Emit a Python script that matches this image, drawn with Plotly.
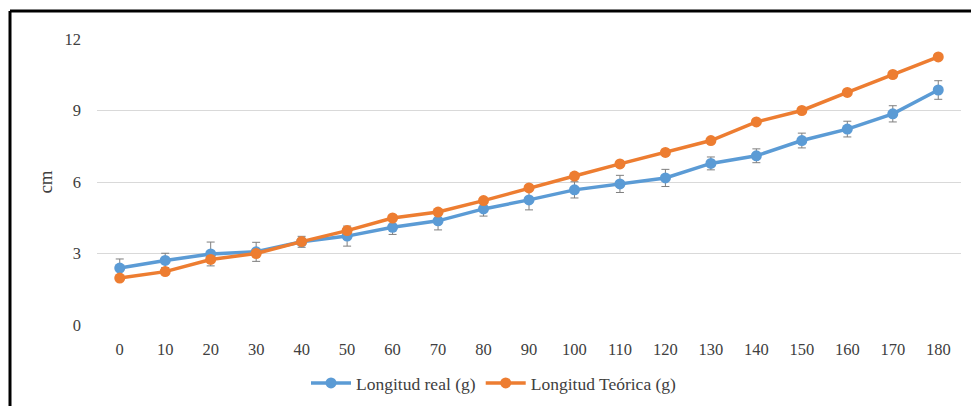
import plotly.graph_objects as go

categories = ["0", "10", "20", "30", "40", "50", "60", "70", "80", "90",
              "100", "110", "120", "130", "140", "150", "160", "170", "180"]
real = [2.39, 2.71, 2.98, 3.07, 3.49, 3.73, 4.10, 4.37, 4.87, 5.25,
        5.67, 5.92, 6.17, 6.78, 7.10, 7.74, 8.22, 8.86, 9.86]
real_err = [0.38, 0.3, 0.5, 0.4, 0.23, 0.42, 0.3, 0.38, 0.3, 0.42,
            0.34, 0.36, 0.36, 0.27, 0.29, 0.31, 0.33, 0.34, 0.39]
teorica = [1.97, 2.24, 2.75, 3.0, 3.5, 3.96, 4.49, 4.74, 5.22, 5.75,
           6.25, 6.76, 7.24, 7.74, 8.52, 9.0, 9.76, 10.51, 11.25]
yticks = [0, 3, 6, 9, 12]

BLUE = "#5B9BD5"
ORANGE = "#ED7D31"
FONT = "Liberation Serif, Times New Roman, serif"
TXT = "#404040"

fig = go.Figure()
fig.add_trace(go.Scatter(
    x=categories, y=real, name="Longitud real (g)", mode="lines+markers",
    line=dict(color=BLUE, width=3.5), marker=dict(color=BLUE, size=11),
    error_y=dict(type="data", array=real_err, visible=True, color="#7F7F7F",
                 thickness=1, width=4)))
fig.add_trace(go.Scatter(
    x=categories, y=teorica, name="Longitud Teórica (g)", mode="lines+markers",
    line=dict(color=ORANGE, width=3.5), marker=dict(color=ORANGE, size=11)))

W, H = 971, 406
L, R, T, B = 97, 10, 39, 81
pw, ph = W - L - R, H - T - B

def px(xp):
    return (xp - L) / pw

def py(yp):
    return (H - B - yp) / ph

fig.update_layout(
    width=W, height=H,
    margin=dict(l=L, r=R, t=T, b=B, pad=0, autoexpand=False),
    paper_bgcolor="white", plot_bgcolor="white",
    font=dict(family=FONT, size=16, color=TXT),
    showlegend=True,
    legend=dict(orientation="h", x=px(306), xanchor="left", y=py(383),
                yanchor="middle", font=dict(family=FONT, size=17.5, color=TXT),
                itemwidth=40, tracegroupgap=0, bgcolor="rgba(0,0,0,0)"),
    xaxis=dict(type="category", range=[-0.5, 18.5], showgrid=False,
               showline=False, zeroline=False, ticks="", automargin=False,
               ticklabelstandoff=12,
               tickfont=dict(family=FONT, size=16.5, color=TXT)),
    yaxis=dict(range=[0, 12], tickvals=yticks, showgrid=True,
               gridcolor="#D9D9D9", gridwidth=1, zeroline=False,
               showline=False, ticks="", ticklabelstandoff=15, automargin=False,
               tickfont=dict(family=FONT, size=16.5, color=TXT),
               title=dict(text="cm", standoff=6,
                          font=dict(family=FONT, size=19, color=TXT))),
    shapes=[
        dict(type="line", xref="paper", yref="paper",
             x0=px(10), x1=px(W + 5), y0=py(11), y1=py(11),
             line=dict(color="black", width=3)),
        dict(type="line", xref="paper", yref="paper",
             x0=px(10), x1=px(10), y0=py(11), y1=py(H + 5),
             line=dict(color="black", width=3)),
    ],
)

fig.write_html("out.html", config={"displayModeBar": False},
               post_script="document.body.style.margin='0';"
                           "document.body.style.overflow='hidden';")
